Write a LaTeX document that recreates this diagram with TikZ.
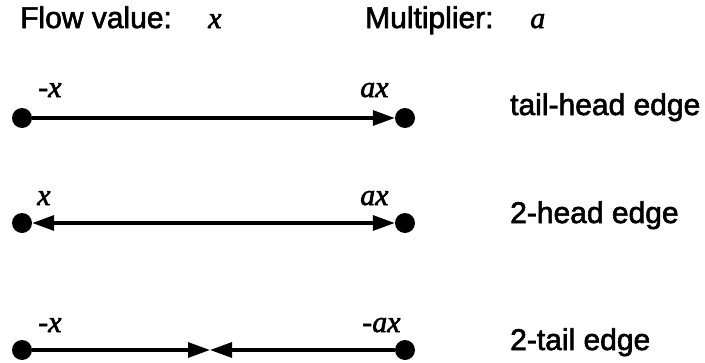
\documentclass[tikz,border=0pt]{standalone}
\usepackage{fontspec}
\setmainfont{Liberation Sans}
\newfontfamily\hvfont[FakeBold=2]{Liberation Sans}
\newfontfamily\lblfont[FakeBold=2]{Liberation Serif Italic}
\usetikzlibrary{arrows.meta}
\begin{document}
\begin{tikzpicture}[x=1pt,y=-1pt,
  txt/.style={anchor=base west,inner sep=0pt,font=\hvfont\fontsize{30}{34}\selectfont},
  var/.style={anchor=base west,inner sep=0pt,font=\lblfont\fontsize{30}{34}\selectfont},
  dot/.style={circle,fill=black,inner sep=0pt,minimum size=20pt},
  edge/.style={line width=3.2pt,>={Triangle[length=22pt,width=15pt]}}]
\useasboundingbox (0,0) rectangle (705,362);
% header
\node[txt] (fv) at (20,28) {Flow value:};
\node[var] (fvx) at (208,28) {x};
\node[txt] (mu) at (365,28) {Multiplier:};
\node[var] (mua) at (530,28) {a};
% row 1
\node[dot] (a1) at (22,118) {};
\node[dot] (b1) at (405,118) {};
\draw[edge,->] (a1) -- (b1);
\node[var] (la1) at (38,97) {-x};
\node[var] (lb1) at (360,97) {ax};
\node[txt] (t1) at (510,115) {tail-head edge};
% row 2
\node[dot] (a2) at (22,223) {};
\node[dot] (b2) at (405,223) {};
\draw[edge,<->] (a2) -- (b2);
\node[var] (la2) at (37,205) {x};
\node[var] (lb2) at (360,205) {ax};
\node[txt] (t2) at (510,223) {2-head edge};
% row 3
\node[dot] (a3) at (22,350) {};
\node[dot] (b3) at (405,350) {};
\coordinate (m3) at (210,350);
\draw[edge,->] (a3) -- (m3);
\draw[edge,->] (b3) -- (m3);
\node[var] (la3) at (38,332) {-x};
\node[var] (lb3) at (362,332) {-ax};
\node[txt] (t3) at (510,350) {2-tail edge};
\end{tikzpicture}
\end{document}
